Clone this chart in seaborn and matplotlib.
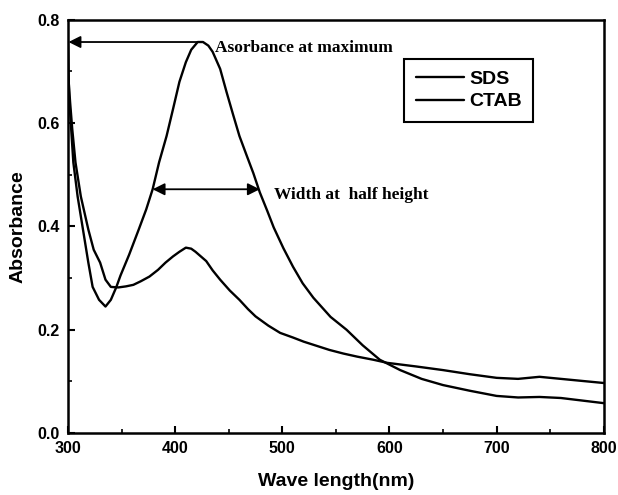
import matplotlib
matplotlib.use("Agg")
import matplotlib.pyplot as plt
import seaborn as sns
import pandas as pd
from matplotlib.ticker import MultipleLocator

# UV-Vis absorption spectra of silver sols stabilised by SDS and CTAB
sds_wavelength = [300, 301, 303, 305, 309, 314, 319, 323, 329, 335, 340, 345, 349,
                  357, 366, 373, 379, 385, 392, 398, 404, 410, 415, 421, 426, 431,
                  435, 442, 448, 454, 460, 467, 473, 479, 486, 492, 501, 510, 519,
                  529, 545, 560, 575, 591, 610, 630, 650, 675, 700, 720, 740, 760,
                  780, 800]
sds_absorbance = [0.76, 0.652, 0.588, 0.524, 0.458, 0.394, 0.33, 0.283, 0.258, 0.245,
                  0.258, 0.282, 0.305, 0.345, 0.394, 0.433, 0.472, 0.524, 0.575,
                  0.627, 0.68, 0.718, 0.742, 0.757, 0.757, 0.75, 0.738, 0.705, 0.66,
                  0.617, 0.575, 0.536, 0.503, 0.466, 0.43, 0.398, 0.358, 0.322,
                  0.29, 0.262, 0.225, 0.20, 0.17, 0.142, 0.122, 0.105, 0.093, 0.082,
                  0.072, 0.069, 0.070, 0.068, 0.063, 0.058]

ctab_wavelength = [300, 302, 304, 307, 312, 319, 324, 330, 335, 340, 347, 354, 361,
                   368, 376, 384, 391, 398, 404, 410, 415, 419, 424, 429, 435, 442,
                   451, 460, 468, 475, 487, 498, 510, 520, 532, 544, 557, 570, 585,
                   598, 625, 650, 675, 700, 720, 740, 760, 780, 800]
ctab_absorbance = [0.70, 0.64, 0.588, 0.524, 0.458, 0.394, 0.355, 0.33, 0.297, 0.283,
                   0.282, 0.284, 0.287, 0.294, 0.303, 0.316, 0.33, 0.342, 0.351,
                   0.359, 0.357, 0.351, 0.342, 0.333, 0.315, 0.297, 0.276, 0.258,
                   0.24, 0.226, 0.208, 0.194, 0.185, 0.177, 0.169, 0.161, 0.154,
                   0.148, 0.142, 0.136, 0.129, 0.122, 0.114, 0.107, 0.105, 0.109,
                   0.105, 0.101, 0.097]

series_names = ["SDS", "CTAB"]
x_ticks = [300, 400, 500, 600, 700, 800]
y_ticks = [0.0, 0.2, 0.4, 0.6, 0.8]

# Annotation values
peak_wavelength = 423
peak_absorbance = 0.757
half_left, half_right, half_level = 379, 479, 0.472

sns.set_theme(style="white")
plt.rcParams["font.family"] = ["Liberation Sans", "DejaVu Sans"]
plt.rcParams["text.color"] = "black"
plt.rcParams["axes.labelcolor"] = "black"
plt.rcParams["xtick.color"] = "black"
plt.rcParams["ytick.color"] = "black"

df = pd.concat([
    pd.DataFrame({"wavelength": sds_wavelength, "absorbance": sds_absorbance,
                  "sample": series_names[0]}),
    pd.DataFrame({"wavelength": ctab_wavelength, "absorbance": ctab_absorbance,
                  "sample": series_names[1]}),
])

fig = plt.figure(figsize=(6.18, 4.95), dpi=100)
ax = fig.add_axes([0.110, 0.125, 0.867, 0.835])

sns.lineplot(data=df, x="wavelength", y="absorbance", hue="sample",
             palette=["black", "black"], linewidth=1.7, sort=False,
             estimator=None, ax=ax, legend=True)
for line in ax.lines:
    line.set_solid_joinstyle("round")

ax.set_xlim(300, 800)
ax.set_ylim(0.0, 0.8)
ax.set_xticks(x_ticks)
ax.set_yticks(y_ticks)
ax.xaxis.set_minor_locator(MultipleLocator(50))
ax.yaxis.set_minor_locator(MultipleLocator(0.1))
ax.set_xticklabels([str(v) for v in x_ticks], fontweight="bold", fontsize=11.5)
ax.set_yticklabels([f"{v:.1f}" for v in y_ticks], fontweight="bold", fontsize=11.5)
ax.tick_params(which="major", direction="in", length=5, width=1.5,
               bottom=True, left=True, pad=6)
ax.tick_params(which="minor", direction="in", length=3, width=1.2,
               bottom=True, left=True)

for spine in ax.spines.values():
    spine.set_color("black")
    spine.set_linewidth(1.8)

ax.set_xlabel("Wave length(nm)", fontweight="bold", fontsize=14, labelpad=12)
ax.set_ylabel("Absorbance", fontweight="bold", fontsize=14, labelpad=8)

# Arrow from the SDS maximum back to the absorbance axis
ax.annotate("", xy=(300.5, peak_absorbance), xytext=(peak_wavelength, peak_absorbance),
            arrowprops=dict(arrowstyle="-|>", color="black", lw=1.3,
                            mutation_scale=18, shrinkA=0, shrinkB=0))
ax.text(peak_wavelength + 14, peak_absorbance - 0.012, "Asorbance at maximum",
        family=["Liberation Serif"], fontweight="bold", fontsize=12.5,
        ha="left", va="center")

# Double arrow showing the band width
ax.annotate("", xy=(half_left, half_level), xytext=(half_right, half_level),
            arrowprops=dict(arrowstyle="<|-|>", color="black", lw=1.3,
                            mutation_scale=18, shrinkA=0, shrinkB=0))
ax.text(half_right + 13, half_level - 0.012, "Width at  half height",
        family=["Liberation Serif"], fontweight="bold", fontsize=12.5,
        ha="left", va="center")

leg = ax.legend(loc="upper left", bbox_to_anchor=(0.627, 0.906), frameon=True,
                fancybox=False, handlelength=2.5, handletextpad=0.25,
                borderpad=0.6, labelspacing=0.25, borderaxespad=0, title=None,
                prop={"weight": "bold", "size": 14})
leg.get_frame().set_edgecolor("black")
leg.get_frame().set_linewidth(1.5)
leg.get_frame().set_alpha(1.0)

fig.savefig("out.png", dpi=100, facecolor="white")
